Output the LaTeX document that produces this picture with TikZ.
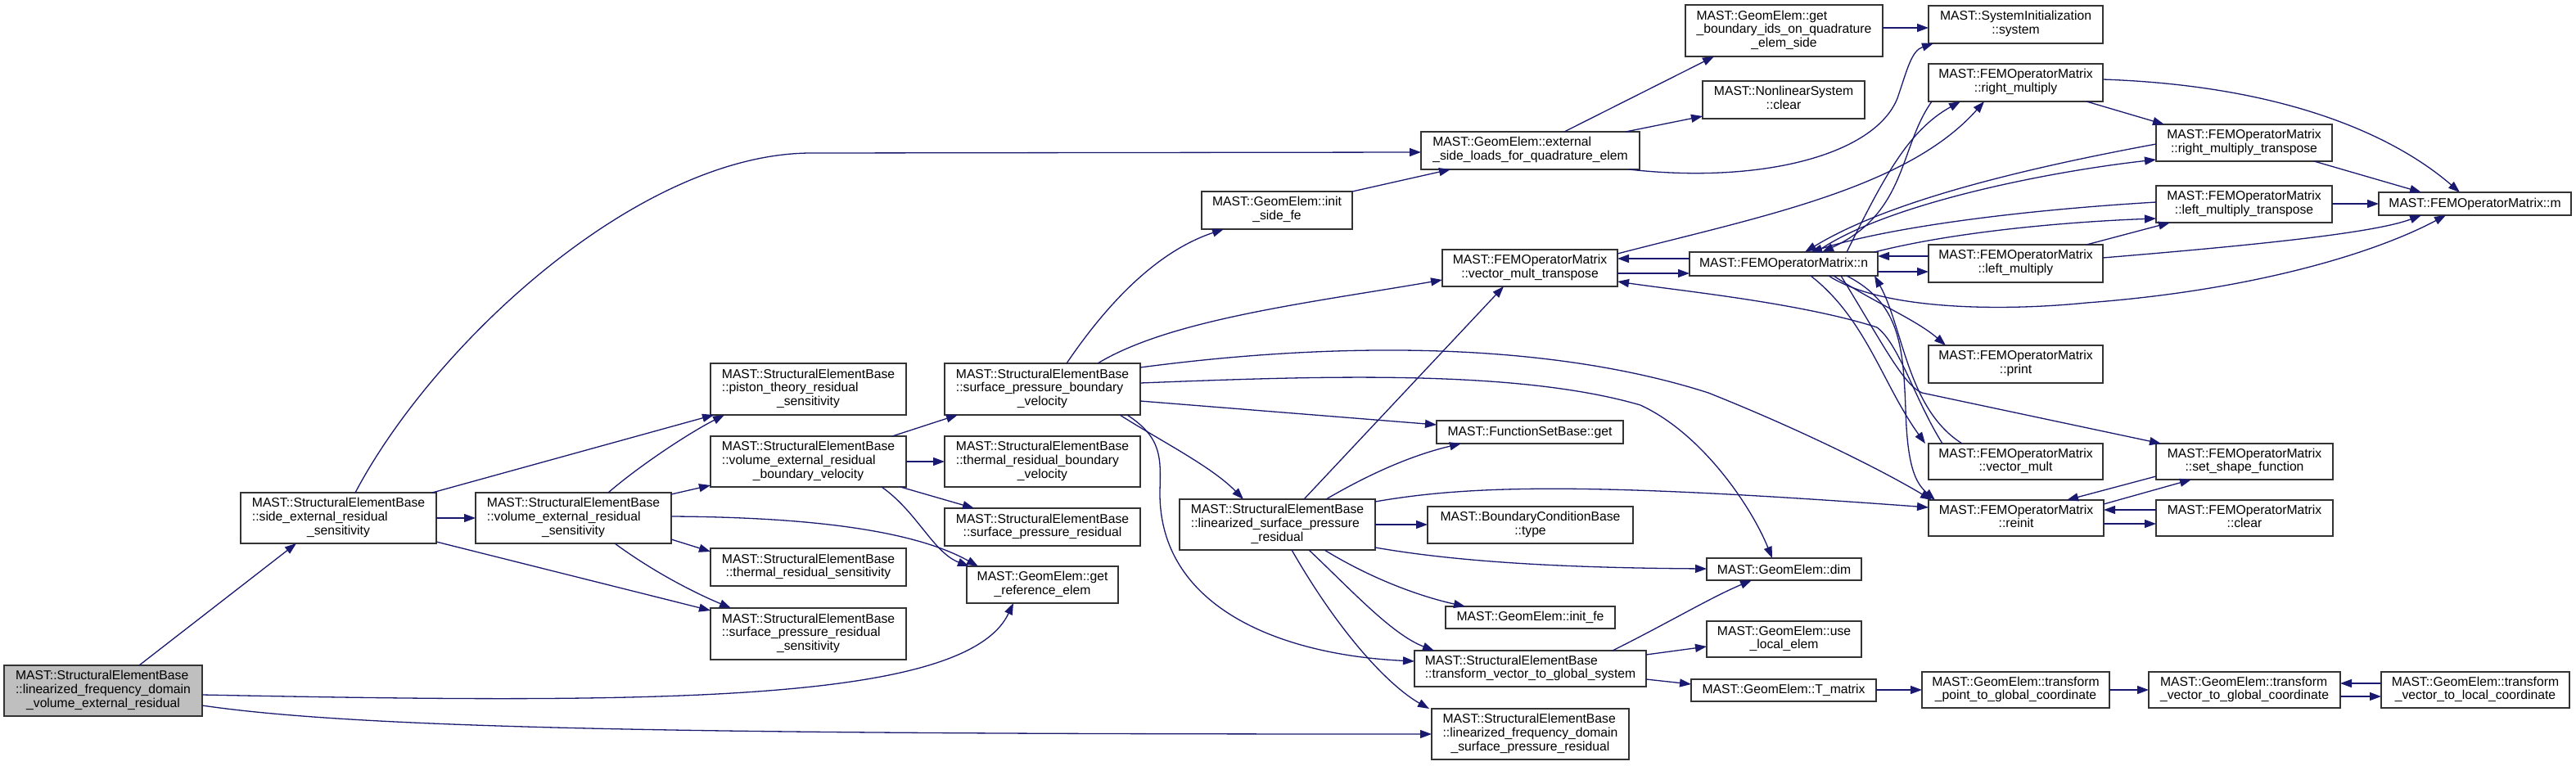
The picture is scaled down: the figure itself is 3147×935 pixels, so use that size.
\documentclass[tikz,border=0pt]{standalone}
\usepackage{fontspec}
\setmainfont{Liberation Sans}
\usetikzlibrary{arrows.meta}
\definecolor{navy}{HTML}{191970}
\definecolor{rootgray}{HTML}{BFBFBF}
\newcommand{\lb}[2]{\begin{tabular}{@{}l@{}}#1\\\multicolumn{1}{@{}c@{}}{#2}\end{tabular}}
\newcommand{\bx}[7][white]{\node[box, fill=#1, minimum width={(#5)-(#3)}, minimum height={(#6)-(#4)}] (#2) at ({((#3)+(#5))/2},{((#4)+(#6))/2}) {#7};}
\begin{document}
\begin{tikzpicture}[x=1pt,y=-1pt,
  box/.style={draw=black!80, line width=1.3pt, inner sep=0pt, outer sep=0pt, font=\fontsize{15.7}{16.7}\selectfont, text=black},
  ed/.style={draw=navy, line width=1.3pt, -{Triangle[length=14pt,width=10pt]}, fill=none}]
\useasboundingbox[fill=white] (0,0) rectangle (3147,935);
% nodes
\bx[rootgray]{root}{5}{813}{247}{875}{\lb{MAST::StructuralElementBase\\::linearized\_frequency\_domain}{\_volume\_external\_residual}}
\bx{side}{294}{602}{533}{664}{\lb{MAST::StructuralElementBase\\::side\_external\_residual}{\_sensitivity}}
\bx{vers}{581}{602}{820}{664}{\lb{MAST::StructuralElementBase\\::volume\_external\_residual}{\_sensitivity}}
\bx{piston}{868}{444}{1107}{507}{\lb{MAST::StructuralElementBase\\::piston\_theory\_residual}{\_sensitivity}}
\bx{vebv}{868}{533}{1107}{595}{\lb{MAST::StructuralElementBase\\::volume\_external\_residual}{\_boundary\_velocity}}
\bx{trs}{868}{670}{1107}{716}{\lb{MAST::StructuralElementBase}{::thermal\_residual\_sensitivity}}
\bx{sprs}{868}{743}{1107}{806}{\lb{MAST::StructuralElementBase\\::surface\_pressure\_residual}{\_sensitivity}}
\bx{spbv}{1154}{444}{1393}{507}{\lb{MAST::StructuralElementBase\\::surface\_pressure\_boundary}{\_velocity}}
\bx{trbv}{1154}{533}{1393}{595}{\lb{MAST::StructuralElementBase\\::thermal\_residual\_boundary}{\_velocity}}
\bx{spr}{1154}{621}{1393}{667}{\lb{MAST::StructuralElementBase}{::surface\_pressure\_residual}}
\bx{gre}{1181}{692}{1366}{737}{\lb{MAST::GeomElem::get}{\_reference\_elem}}
\bx{isf}{1468}{234}{1652}{280}{\lb{MAST::GeomElem::init}{\_side\_fe}}
\bx{esl}{1736}{161}{2003}{207}{\lb{MAST::GeomElem::external}{\_side\_loads\_for\_quadrature\_elem}}
\bx{gbi}{2059}{6}{2300}{69}{\lb{MAST::GeomElem::get\\\_boundary\_ids\_on\_quadrature}{\_elem\_side}}
\bx{nlc}{2080}{99}{2278}{145}{\lb{MAST::NonlinearSystem}{::clear}}
\bx{sys}{2356}{7}{2569}{53}{\lb{MAST::SystemInitialization}{::system}}
\bx{rm}{2356}{78}{2569}{124}{\lb{MAST::FEMOperatorMatrix}{::right\_multiply}}
\bx{rmt}{2634}{152}{2849}{197}{\lb{MAST::FEMOperatorMatrix}{::right\_multiply\_transpose}}
\bx{lmt}{2634}{227}{2849}{272}{\lb{MAST::FEMOperatorMatrix}{::left\_multiply\_transpose}}
\bx{mm}{2906}{235}{3141}{263}{MAST::FEMOperatorMatrix::m}
\bx{nn}{2064}{308}{2294}{337}{MAST::FEMOperatorMatrix::n}
\bx{lm}{2356}{299}{2569}{345}{\lb{MAST::FEMOperatorMatrix}{::left\_multiply}}
\bx{prt}{2356}{422}{2569}{468}{\lb{MAST::FEMOperatorMatrix}{::print}}
\bx{vm}{2356}{542}{2569}{586}{\lb{MAST::FEMOperatorMatrix}{::vector\_mult}}
\bx{ssf}{2634}{542}{2850}{586}{\lb{MAST::FEMOperatorMatrix}{::set\_shape\_function}}
\bx{rei}{2356}{611}{2570}{655}{\lb{MAST::FEMOperatorMatrix}{::reinit}}
\bx{clr}{2634}{611}{2850}{655}{\lb{MAST::FEMOperatorMatrix}{::clear}}
\bx{vmt}{1762}{305}{1976}{350}{\lb{MAST::FEMOperatorMatrix}{::vector\_mult\_transpose}}
\bx{fsg}{1755}{514}{1983}{542}{MAST::FunctionSetBase::get}
\bx{lsp}{1441}{610}{1680}{672}{\lb{MAST::StructuralElementBase\\::linearized\_surface\_pressure}{\_residual}}
\bx{bct}{1744}{619}{1995}{664}{\lb{MAST::BoundaryConditionBase}{::type}}
\bx{ife}{1766}{741}{1973}{768}{MAST::GeomElem::init\_fe}
\bx{dim}{2085}{682}{2274}{709}{MAST::GeomElem::dim}
\bx{tvgs}{1728}{795}{2011}{839}{\lb{MAST::StructuralElementBase}{::transform\_vector\_to\_global\_system}}
\bx{ule}{2085}{759}{2274}{803}{\lb{MAST::GeomElem::use}{\_local\_elem}}
\bx{tm}{2066}{830}{2292}{857}{MAST::GeomElem::T\_matrix}
\bx{tpg}{2348}{821}{2577}{865}{\lb{MAST::GeomElem::transform}{\_point\_to\_global\_coordinate}}
\bx{tvg}{2625}{821}{2859}{865}{\lb{MAST::GeomElem::transform}{\_vector\_to\_global\_coordinate}}
\bx{tvl}{2909}{821}{3139}{865}{\lb{MAST::GeomElem::transform}{\_vector\_to\_local\_coordinate}}
\bx{lfd}{1749}{866}{1990}{928}{\lb{MAST::StructuralElementBase\\::linearized\_frequency\_domain}{\_surface\_pressure\_residual}}
% edges
\draw[ed] (root.north -| 170,0) -- (side.south -| 362,0);
\draw[ed] (root.east |- 0,849) .. controls (800,860) and (1180,860) .. (gre.south -| 1238,0);
\draw[ed] (root.east |- 0,862) .. controls (450,892) and (900,897) .. (lfd.west |- 0,897);
\draw[ed] (side.north -| 434,0) .. controls (530,420) and (780,188) .. (990,187) -- (esl.west |- 0,186);
\draw[ed] (side.north -| 528,0) -- (piston.south -| 872,0);
\draw[ed] (side.east |- 0,633) -- (vers.west |- 0,633);
\draw[ed] (side.east |- 0,662) -- (sprs.west |- 0,746);
\draw[ed] (vers.north -| 743,0) .. controls (780,570) and (840,530) .. (piston.south -| 885,0);
\draw[ed] (vers.east |- 0,604) -- (vebv.west |- 0,593);
\draw[ed] (vers.east |- 0,631) .. controls (1000,632) and (1120,650) .. (gre.north -| 1195,0);
\draw[ed] (vers.east |- 0,659) -- (trs.west |- 0,674);
\draw[ed] (vers.south -| 751,0) .. controls (800,700) and (850,725) .. (sprs.north -| 893,0);
\draw[ed] (vebv.north -| 1090,0) -- (spbv.south -| 1170,0);
\draw[ed] (vebv.east |- 0,564) -- (trbv.west |- 0,564);
\draw[ed] (vebv.south -| 1100,0) -- (spr.north -| 1190,0);
\draw[ed] (vebv.south -| 1077,0) .. controls (1120,625) and (1140,675) .. (gre.north -| 1184,0);
\draw[ed] (spbv.north -| 1303,0) .. controls (1360,360) and (1420,305) .. (isf.south -| 1495,0);
\draw[ed] (spbv.north -| 1341,0) .. controls (1430,390) and (1600,370) .. (vmt.west |- 0,342);
\draw[ed] (spbv.east |- 0,449) .. controls (1650,415) and (1900,420) .. (2087,480) .. controls (2200,525) and (2300,575) .. (rei.north -| 2360,0);
\draw[ed] (spbv.east |- 0,468) .. controls (1600,460) and (1850,450) .. (2004,495) .. controls (2080,530) and (2140,620) .. (dim.north -| 2165,0);
\draw[ed] (spbv.east |- 0,490) -- (fsg.west |- 0,519);
\draw[ed] (spbv.south -| 1368,0) .. controls (1420,540) and (1480,570) .. (lsp.north -| 1519,0);
\draw[ed] (spbv.south -| 1377,0) .. controls (1420,535) and (1418,560) .. (1417,600) .. controls (1415,740) and (1560,800) .. (tvgs.west |- 0,808);
\draw[ed] (lsp.north -| 1593,0) -- (vmt.south -| 1837,0);
\draw[ed] (lsp.north -| 1620,0) .. controls (1680,575) and (1730,555) .. (fsg.south -| 1785,0);
\draw[ed] (lsp.east |- 0,613) .. controls (1800,592) and (1950,590) .. (rei.west |- 0,620);
\draw[ed] (lsp.east |- 0,641) -- (bct.west |- 0,641);
\draw[ed] (lsp.east |- 0,669) .. controls (1800,690) and (1950,694) .. (dim.west |- 0,695);
\draw[ed] (lsp.south -| 1618,0) .. controls (1680,710) and (1740,730) .. (ife.north -| 1790,0);
\draw[ed] (lsp.south -| 1599,0) .. controls (1650,720) and (1700,775) .. (tvgs.north -| 1752,0);
\draw[ed] (lsp.south -| 1578,0) .. controls (1640,780) and (1700,840) .. (lfd.north -| 1746,0);
\draw[ed] (isf.north east) -- (esl.south -| 1772,0);
\draw[ed] (esl.north -| 1911,0) -- (gbi.south -| 2094,0);
\draw[ed] (esl.north -| 1986,0) -- (nlc.west |- 0,142);
\draw[ed] (esl.south -| 1990,0) .. controls (2150,225) and (2290,190) .. (2318,120) .. controls (2330,85) and (2335,62) .. (sys.south -| 2362,0);
\draw[ed] (gbi.east |- 0,34) -- (sys.west |- 0,34);
\draw[ed] (rm.south -| 2549,0) -- (rmt.north -| 2644,0);
\draw[ed] (rm.east |- 0,97) .. controls (2800,105) and (2930,170) .. (mm.north -| 3005,0);
\draw[ed] (rmt.south -| 2827,0) -- (mm.north -| 2958,0);
\draw[ed] (lmt.east |- 0,249) -- (mm.west |- 0,249);
\draw[ed] (lm.north -| 2549,0) -- (lmt.south -| 2651,0);
\draw[ed] (lm.east |- 0,315) .. controls (2750,300) and (2900,285) .. (mm.south -| 2958,0);
\draw[ed] (nn.south -| 2234,0) .. controls (2300,380) and (2450,380) .. (2549,370) .. controls (2750,355) and (2900,310) .. (mm.south -| 2988,0);
\draw[ed] (nn.east |- 0,332) -- (lm.west |- 0,332);
\draw[ed] (lm.west |- 0,313) -- (nn.east |- 0,313);
\draw[ed] (nn.north -| 2290,0) .. controls (2400,280) and (2550,270) .. (lmt.west |- 0,267);
\draw[ed] (lmt.west |- 0,247) .. controls (2450,258) and (2300,280) .. (nn.north -| 2212,0);
\draw[ed] (nn.north -| 2219,0) .. controls (2300,250) and (2500,210) .. (rmt.west |- 0,195);
\draw[ed] (rmt.west |- 0,176) .. controls (2450,210) and (2300,250) .. (nn.north -| 2205,0);
\draw[ed] (vmt.east |- 0,310) .. controls (2150,265) and (2330,230) .. (rm.south -| 2424,0);
\draw[ed] (nn.north -| 2256,0) .. controls (2300,220) and (2330,160) .. (rm.south -| 2395,0);
\draw[ed] (rm.south -| 2360,0) .. controls (2320,180) and (2330,260) .. (nn.north -| 2226,0);
\draw[ed] (nn.west |- 0,316) -- (vmt.east |- 0,316);
\draw[ed] (vmt.east |- 0,334) -- (nn.west |- 0,334);
\draw[ed] (vm.north -| 2373,0) .. controls (2340,490) and (2320,420) .. (2293,400) .. controls (2200,370) and (2050,355) .. (vmt.east |- 0,344);
\draw[ed] (vm.north -| 2397,0) .. controls (2330,500) and (2325,400) .. (nn.south -| 2290,0);
\draw[ed] (nn.south -| 2212,0) .. controls (2280,390) and (2300,470) .. (vm.north -| 2352,0);
\draw[ed] (nn.south -| 2240,0) .. controls (2290,370) and (2340,390) .. (prt.north -| 2377,0);
\draw[ed] (nn.south -| 2256,0) .. controls (2320,370) and (2325,420) .. (2328,500) .. controls (2330,570) and (2340,590) .. (rei.north -| 2364,0);
\draw[ed] (nn.south -| 2249,0) .. controls (2300,420) and (2325,470) .. (2348,480) -- (ssf.north -| 2640,0);
\draw[ed] (ssf.west |- 0,582) -- (rei.north -| 2525,0);
\draw[ed] (rei.east |- 0,616) -- (ssf.south -| 2677,0);
\draw[ed] (rei.east |- 0,640) -- (clr.west |- 0,640);
\draw[ed] (clr.west |- 0,623) -- (rei.east |- 0,623);
\draw[ed] (tvgs.north -| 1970,0) .. controls (2040,760) and (2090,730) .. (dim.south -| 2140,0);
\draw[ed] (tvgs.east |- 0,800) -- (ule.west |- 0,790);
\draw[ed] (tvgs.east |- 0,830) -- (tm.west |- 0,836);
\draw[ed] (tm.east |- 0,843) -- (tpg.west |- 0,843);
\draw[ed] (tpg.east |- 0,843) -- (tvg.west |- 0,843);
\draw[ed] (tvg.east |- 0,851) -- (tvl.west |- 0,851);
\draw[ed] (tvl.west |- 0,835) -- (tvg.east |- 0,835);
\end{tikzpicture}
\end{document}
